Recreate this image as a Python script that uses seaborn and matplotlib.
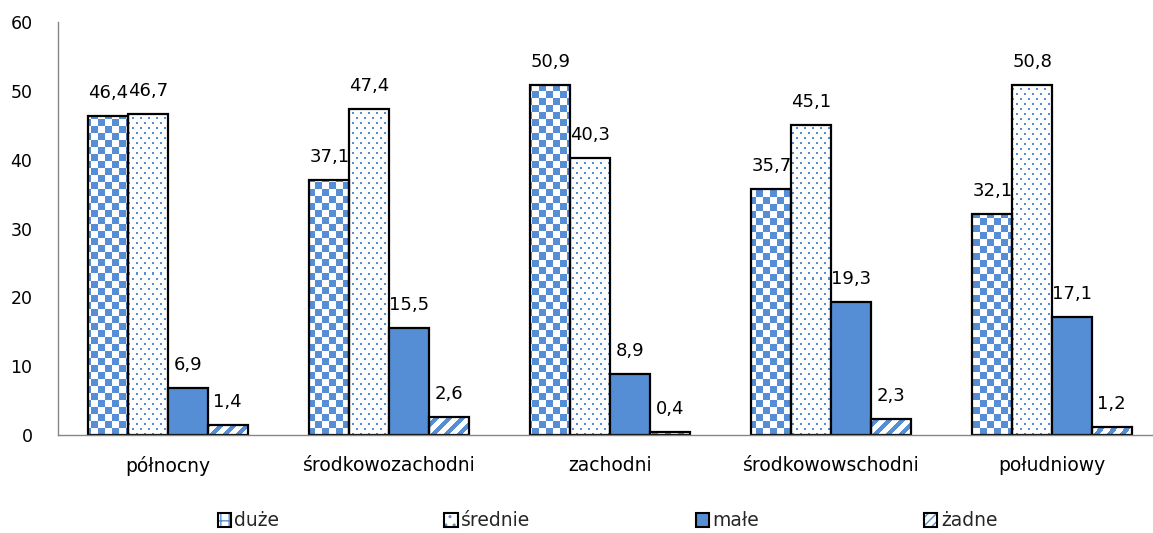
import numpy as np
import pandas as pd
import matplotlib
matplotlib.use('Agg')
import matplotlib.pyplot as plt
import seaborn as sns
from matplotlib.colors import ListedColormap
from matplotlib.patches import Patch

## data
regions = ['północny', 'środkowozachodni', 'zachodni', 'środkowowschodni', 'południowy']
sizes = ['duże', 'średnie', 'małe', 'żadne']
duze = [46.4, 37.1, 50.9, 35.7, 32.1]
srednie = [46.7, 47.4, 40.3, 45.1, 50.8]
male = [6.9, 15.5, 8.9, 19.3, 17.1]
zadne = [1.4, 2.6, 0.4, 2.3, 1.2]
y_ticks = [0, 10, 20, 30, 40, 50, 60]

BLUE = '#558ED5'
GREY = '#868686'

df = pd.DataFrame({
    'region': regions * len(sizes),
    'size': np.repeat(sizes, len(regions)),
    'value': duze + srednie + male + zadne,
})

sns.set_style('white')
plt.rcParams['font.family'] = ['DejaVu Sans']

W, H = 1153, 533
fig = plt.figure(figsize=(W / 100, H / 100), dpi=100)
ax = fig.add_axes([57.5 / W, 1 - 435 / H, 1105 / W, (435 - 22) / H])

sns.barplot(data=df, x='region', y='value', hue='size',
            order=regions, hue_order=sizes,
            palette=[BLUE] * len(sizes),
            width=0.72, gap=0, saturation=1,
            edgecolor='black', linewidth=1.6,
            errorbar=None, legend=False, ax=ax)

ax.set_xlim(-0.5, len(regions) - 0.5)
ax.set_ylim(0, 60)
ax.set_yticks(y_ticks)


## pixel patterns (Excel-like fills)
def checker(ii, jj):
    return ((ii // 7 + jj // 7) % 2) == 0


def dots(ii, jj):
    row = jj // 5
    return ((jj % 5) < 2) & (((ii + 4 * (row % 2)) % 8) < 2)


def stripes(ii, jj):
    return ((ii - jj) % 13) < 6


patterns = {0: checker, 1: dots, 3: stripes}
cmap = ListedColormap(['white', BLUE])

for idx, func in patterns.items():
    for bar in ax.containers[idx]:
        x0, y0 = bar.get_x(), bar.get_y()
        x1, y1 = x0 + bar.get_width(), y0 + bar.get_height()
        (px0, py0), (px1, py1) = ax.transData.transform([(x0, y0), (x1, y1)])
        nx = max(int(round(px1 - px0)), 1)
        ny = max(int(round(py1 - py0)), 1)
        ii, jj = np.meshgrid(np.arange(nx) + int(px0), np.arange(ny))
        mask = func(ii, jj).astype(float)
        ax.imshow(mask, extent=(x0, x1, y0, y1), origin='lower', cmap=cmap,
                  vmin=0, vmax=1, interpolation='nearest', aspect='auto',
                  zorder=0.9)
        bar.set_facecolor('none')

ax.set_xlim(-0.5, len(regions) - 0.5)
ax.set_ylim(0, 60)

## value labels
for cont, vals in zip(ax.containers, [duze, srednie, male, zadne]):
    ax.bar_label(cont, labels=[f'{v:.1f}'.replace('.', ',') for v in vals],
                 padding=10, fontsize=13, color='black')

## axes styling
for side in ['top', 'right']:
    ax.spines[side].set_visible(False)
for side in ['left', 'bottom']:
    ax.spines[side].set_color(GREY)
    ax.spines[side].set_linewidth(1)
ax.tick_params(axis='y', length=0, pad=18, labelsize=12.5, labelcolor='black')
ax.tick_params(axis='x', length=0, pad=15, labelsize=13.5, labelcolor='black')
ax.set_xlabel('')
ax.set_ylabel('')

## legend
handles = [
    (Patch(facecolor='white', edgecolor=BLUE, hatch='++', linewidth=0),
     Patch(facecolor='none', edgecolor='black', linewidth=1.5)),
    (Patch(facecolor='white', edgecolor=BLUE, hatch='..', linewidth=0),
     Patch(facecolor='none', edgecolor='black', linewidth=1.5)),
    Patch(facecolor=BLUE, edgecolor='black', linewidth=1.5),
    (Patch(facecolor='white', edgecolor=BLUE, hatch='////', linewidth=0),
     Patch(facecolor='none', edgecolor='black', linewidth=1.5)),
]
fig.legend(handles, sizes, loc='center', ncol=4,
           bbox_to_anchor=(607.5 / W, 1 - 521 / H),
           frameon=False, fontsize=13.5,
           handlelength=0.7, handleheight=0.7, handletextpad=0.2,
           columnspacing=8.8)

plt.savefig('out.png', dpi=100)
